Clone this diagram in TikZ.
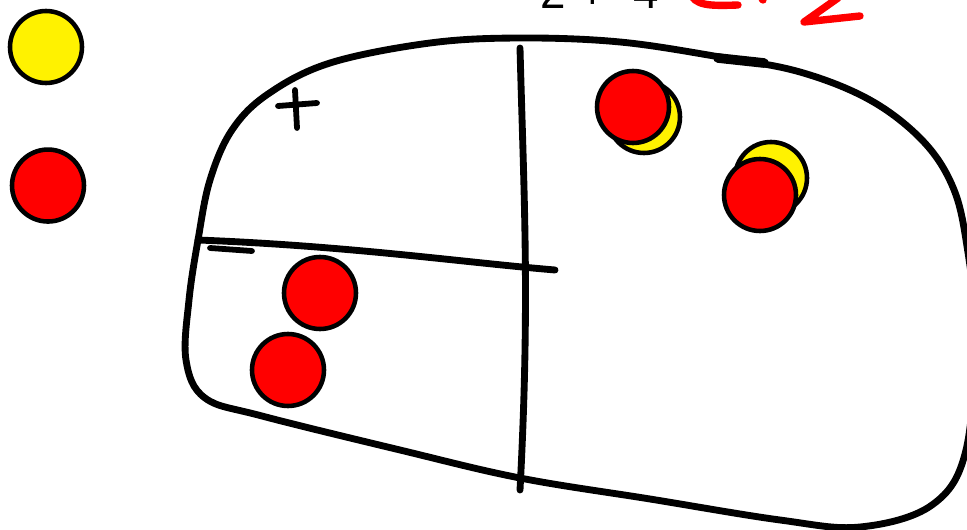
\documentclass[tikz,border=0pt]{standalone}
\usepackage{fontspec}
\setmainfont{Liberation Sans}
\usetikzlibrary{positioning}

\begin{document}
\begin{tikzpicture}[
    x=0.02cm, y=-0.02cm,
    chip/.style={
        circle,
        draw=black,
        line width=2.6pt,
        minimum size=1.44cm,
        inner sep=0pt
    },
    yellowchip/.style={chip, fill=yellow},
    redchip/.style={chip, fill=red},
    ink/.style={
        line width=3.9pt,
        line cap=round,
        line join=round
    },
    redink/.style={
        ink,
        red,
        line width=4.2pt
    }
]
\useasboundingbox (0,0) rectangle (967,530);

% Legend chips
\node[yellowchip] (legend-yellow) at (46,47) {};
\node[redchip, below=1.24cm of legend-yellow, xshift=0.04cm] (legend-red) {};

% Mat outline
\draw[ink] plot[smooth cycle, tension=0.6] coordinates {
    (198,240) (210,180) (232,130) (268,94) (330,63) (430,43) (520,38)
    (620,42) (720,57) (800,72) (870,100) (922,140) (952,185) (966,240)
    (975,330) (966,450) (932,505) (860,527) (780,520) (650,499)
    (520,478) (400,450) (262,416) (205,398) (186,360) (189,300)};
\draw[ink, line width=5.5pt] (718,58) -- (764,63);

% Dividers
\coordinate (hleft) at (198,240);
\coordinate (hright) at (555,270);
\coordinate (vtop) at (520,48);
\coordinate (vbottom) at (520,490);
\draw[ink] (hleft) .. controls (350,246) and (460,262) .. (hright);
\draw[ink] (vtop) .. controls (524,200) and (530,300) .. (vbottom);

% Signs
\draw[ink, line width=3.3pt] (278,106) -- (317,103);
\draw[ink, line width=3.3pt] (295,90) -- (297,128);
\draw[ink, line width=3.3pt] (210,248) -- (252,251);

% Chips in the lower left
\node[redchip] (neg-a) at (320,293) {};
\node[redchip] (neg-b) at (288,370) {};

% Zero pairs in the upper right
\node[yellowchip] (pos-a) at (644,117) {};
\node[redchip] (neg-c) at (633,107) {};
\node[yellowchip] (pos-b) at (771,178) {};
\node[redchip] (neg-d) at (760,195) {};

% Equation
\node[anchor=base, font=\fontsize{26}{30}\selectfont] (sum) at (600,9) {2 + -4};
\draw[redink] (690,-8) .. controls (694,6) and (710,6) .. (738,5);
\draw[redink] (762,-1) -- (763,0);
\draw[redink] (838,-2) -- (804,22) -- (860,16);

\end{tikzpicture}
\end{document}
